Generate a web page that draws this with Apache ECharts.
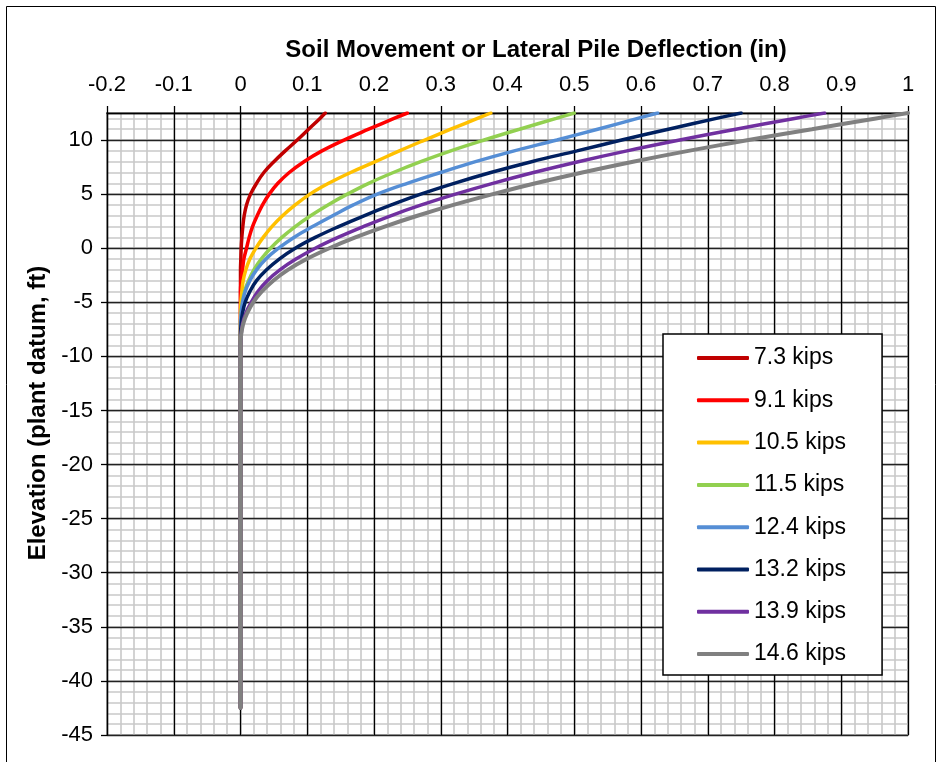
<!DOCTYPE html>
<html><head><meta charset="utf-8">
<script src="https://cdn.jsdelivr.net/npm/echarts@6/dist/echarts.min.js"></script>
<style>html,body{margin:0;padding:0;background:#fff}#c{width:938px;height:762px}</style>
</head><body><div id="c"></div>
<script>
// Legend names and colours
const seriesNames = ['7.3 kips','9.1 kips','10.5 kips','11.5 kips','12.4 kips','13.2 kips','13.9 kips','14.6 kips'];
const seriesColors = ['#C00000','#FF0000','#FFC000','#92D050','#558ED5','#002060','#7030A0','#808080'];

// Elevations (ft) shared by all series
const elevations = [12.5,12,11,10,9,8,7,6,5,4,3,2,1,0,-1,-2,-3,-4,-5,-6,-7,-8,-9,-10,-42.5];
// Deflections (in) at those elevations
const d73  = [0.127,0.119,0.102,0.085,0.067,0.050,0.035,0.024,0.015,0.009,0.0055,0.0035,0.002,0.001,0.0005,0,0,0,0,0,0,0,0,0,0];
const d91  = [0.25,0.23,0.192,0.155,0.122,0.095,0.073,0.056,0.043,0.033,0.025,0.018,0.013,0.009,0.005,0.003,0.001,0,0,0,0,0,0,0,0];
const d105 = [0.375,0.355,0.315,0.276,0.238,0.202,0.165,0.132,0.104,0.082,0.063,0.047,0.034,0.023,0.014,0.008,0.004,0.002,0.0005,0,0,0,0,0,0];
const d115 = [0.5,0.473,0.418,0.365,0.315,0.27,0.229,0.192,0.16,0.131,0.105,0.082,0.062,0.045,0.031,0.02,0.012,0.006,0.003,0.001,0,0,0,0,0];
const d124 = [0.625,0.595,0.535,0.474,0.41,0.352,0.3,0.25,0.205,0.169,0.138,0.108,0.08,0.057,0.038,0.024,0.014,0.007,0.003,0.001,0,0,0,0,0];
const d132 = [0.75,0.713,0.641,0.571,0.504,0.436,0.375,0.32,0.27,0.226,0.185,0.147,0.112,0.082,0.058,0.039,0.024,0.014,0.007,0.003,0.001,0,0,0,0];
const d139 = [0.875,0.83,0.742,0.658,0.579,0.506,0.439,0.378,0.322,0.271,0.225,0.184,0.146,0.112,0.083,0.059,0.040,0.026,0.016,0.008,0.003,0.001,0,0,0];
const d146 = [1.0,0.952,0.856,0.761,0.671,0.588,0.512,0.442,0.378,0.319,0.265,0.216,0.172,0.133,0.099,0.071,0.049,0.032,0.019,0.010,0.004,0.001,0,0,0];
const allSeries = [d73,d91,d105,d115,d124,d132,d139,d146];

// Axis settings
const xMin = -0.2, xMax = 1, xStep = 0.1, xMinorStep = 0.02;
const yMin = -45, yMax = 12.5, yStep = 5, yMinorStep = 1;
const xTitle = 'Soil Movement or Lateral Pile Deflection (in)';
const yTitle = 'Elevation (plant datum, ft)';

const FONT = '"Liberation Sans", Arial, Helvetica, sans-serif';
const chart = echarts.init(document.getElementById('c'), null, {renderer:'canvas'});
const gridPos = {left:107, right:30, top:113, bottom:27};

chart.setOption({
  animation:false,
  backgroundColor:'#fff',
  grid: Object.assign({show:true, borderColor:'#404040', borderWidth:1.5, backgroundColor:'transparent'}, gridPos),
  xAxis:[
    {type:'value', position:'top', min:xMin, max:xMax, interval:xStep, z:1,
     axisLine:{show:true, onZero:false, lineStyle:{color:'#000', width:1.3}},
     axisTick:{show:true, inside:false, length:7, lineStyle:{color:'#000', width:1.3}},
     axisLabel:{margin:17, fontSize:22, color:'#000', fontFamily:FONT},
     splitLine:{show:true, lineStyle:{color:'#000', width:1.3}}},
    {type:'value', position:'top', min:xMin, max:xMax, interval:xMinorStep, z:0,
     axisLine:{show:false}, axisTick:{show:false}, axisLabel:{show:false},
     splitLine:{show:true, lineStyle:{color:'#c8c8c8', width:1.6}}}
  ],
  yAxis:[
    {type:'value', min:yMin, max:yMax, interval:yStep, z:1,
     axisLine:{show:true, onZero:false, lineStyle:{color:'#000', width:1.3}},
     axisTick:{show:true, length:6, lineStyle:{color:'#000', width:1.3}},
     axisLabel:{margin:14, fontSize:22, color:'#000', fontFamily:FONT, showMaxLabel:false},
     splitLine:{show:true, lineStyle:{color:'#222', width:1.4}}},
    {type:'value', min:yMin, max:yMax, interval:yMinorStep, z:0,
     axisLine:{show:false}, axisTick:{show:false}, axisLabel:{show:false},
     splitLine:{show:true, lineStyle:{color:'#c8c8c8', width:1.6}}}
  ],
  legend:{
    orient:'vertical', left:663, top:334, padding:[12.5,36,9.5,34], itemGap:19.3,
    itemWidth:52, itemHeight:4, icon:'roundRect',
    backgroundColor:'#fff', borderColor:'#000', borderWidth:1.5, borderRadius:0,
    textStyle:{fontSize:23, lineHeight:23, color:'#000', fontFamily:FONT},
    data:seriesNames
  },
  graphic:[
    {type:'rect', silent:true, shape:{x:6.5, y:6.5, width:929, height:800}, style:{fill:'none', stroke:'#000', lineWidth:1}},
    {type:'text', x:536, y:50, style:{text:xTitle, font:'bold 24px '+FONT, fill:'#000', textAlign:'center', textVerticalAlign:'middle'}},
    {type:'text', x:38, y:413, rotation:Math.PI/2, style:{text:yTitle, font:'bold 24px '+FONT, fill:'#000', textAlign:'center', textVerticalAlign:'middle'}}
  ],
  series: allSeries.map((d,i)=>({
    name:seriesNames[i], type:'line', xAxisIndex:0, yAxisIndex:0,
    data:d.map((v,k)=>[v, elevations[k]]),
    showSymbol:false, symbol:'none', smooth:0.4, z:2+i,
    itemStyle:{color:seriesColors[i]},
    lineStyle:{color:seriesColors[i], width: i===7 ? 4 : 3.5, cap:'round'}
  }))
});
</script>
</body></html>
